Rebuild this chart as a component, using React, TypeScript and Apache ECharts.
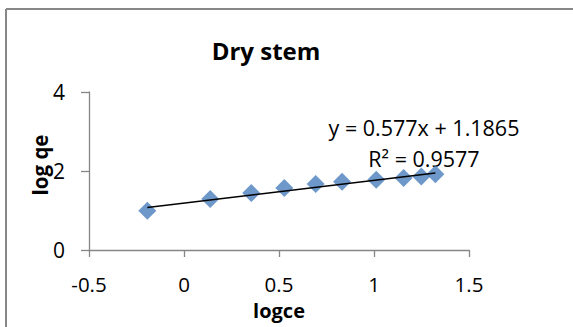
import React, { useEffect, useRef } from "react";
import * as echarts from "echarts";

const logce = [-0.193, 0.138, 0.354, 0.528, 0.693, 0.832, 1.012, 1.156, 1.249, 1.323];
const logqe = [0.995, 1.29, 1.44, 1.57, 1.67, 1.73, 1.78, 1.82, 1.86, 1.92];
const slope = 0.577;
const intercept = 1.1865;
const xTicks = [-0.5, 0, 0.5, 1, 1.5];
const yTicks = [0, 2, 4];
const chartTitle = "Dry stem";
const xName = "logce";
const yName = "log qe";
const eqText = "y = 0.577x + 1.1865";
const r2Text = "R\u00B2 = 0.9577";

const FONT = "'Open Sans', 'Noto Sans', sans-serif";

export default function App() {
  const ref = useRef<HTMLDivElement>(null);
  useEffect(() => {
    if (!ref.current) return;
    const chart = echarts.init(ref.current, undefined, { renderer: "svg" });
    const xs = [Math.min(...logce), Math.max(...logce)];
    const trend = xs.map((x) => [x, slope * x + intercept]);
    chart.setOption({
      animation: false,
      backgroundColor: "#fff",
      grid: { left: 89, right: 104, top: 92, bottom: 77, containLabel: false },
      xAxis: {
        type: "value",
        min: xTicks[0],
        max: xTicks[xTicks.length - 1],
        interval: 0.5,
        axisLine: { onZero: false, lineStyle: { color: "#868686", width: 1.3 } },
        axisTick: { show: true, length: 7, lineStyle: { color: "#868686", width: 1.3 } },
        splitLine: { show: false },
        axisLabel: { fontSize: 20.5, lineHeight: 17, color: "#000", fontFamily: FONT, margin: 25 },
      },
      yAxis: {
        type: "value",
        min: yTicks[0],
        max: yTicks[yTicks.length - 1],
        interval: 2,
        axisLine: { show: true, onZero: false, lineStyle: { color: "#868686", width: 1.3 } },
        axisTick: { show: true, length: 8, lineStyle: { color: "#868686", width: 1.3 } },
        splitLine: { show: false },
        axisLabel: { fontSize: 21, color: "#000", fontFamily: FONT, margin: 24 },
      },
      graphic: [
        { type: "line", shape: { x1: 6, y1: 9, x2: 573, y2: 9 }, style: { stroke: "#878787", lineWidth: 2 } },
        { type: "line", shape: { x1: 6, y1: 9, x2: 6, y2: 327 }, style: { stroke: "#878787", lineWidth: 2 } },
        {
          type: "text", x: 266, y: 50,
          style: { text: chartTitle, fontSize: 24, fontWeight: "bold", fontFamily: FONT, fill: "#000", textAlign: "center", textVerticalAlign: "middle" },
        },
        {
          type: "text", x: 279, y: 310,
          style: { text: xName, fontSize: 20, lineHeight: 17, fontWeight: "bold", fontFamily: FONT, fill: "#000", textAlign: "center", textVerticalAlign: "middle" },
        },
        {
          type: "text", x: 40, y: 165, rotation: Math.PI / 2,
          style: { text: yName, fontSize: 20.5, fontWeight: "bold", fontFamily: FONT, fill: "#000", textAlign: "center", textVerticalAlign: "middle" },
        },
        {
          type: "text", x: 424, y: 127,
          style: { text: eqText, fontSize: 21.5, fontFamily: FONT, fill: "#000", textAlign: "center", textVerticalAlign: "middle" },
        },
        {
          type: "text", x: 424, y: 158,
          style: { text: r2Text, fontSize: 21.5, fontFamily: FONT, fill: "#000", textAlign: "center", textVerticalAlign: "middle" },
        },
      ],
      series: [
        {
          type: "scatter",
          data: logce.map((x, i) => [x, logqe[i]]),
          symbol: "diamond",
          symbolSize: [18, 18],
          itemStyle: { color: "#4A7EBB" },
          z: 2,
        },
        {
          type: "line",
          data: trend,
          showSymbol: false,
          lineStyle: { color: "#000", width: 1.5 },
          z: 3,
        },
      ],
    });
    return () => chart.dispose();
  }, []);
  return <div ref={ref} style={{ position: "fixed", left: 0, top: 0, width: 573, height: 327 }} />;
}
